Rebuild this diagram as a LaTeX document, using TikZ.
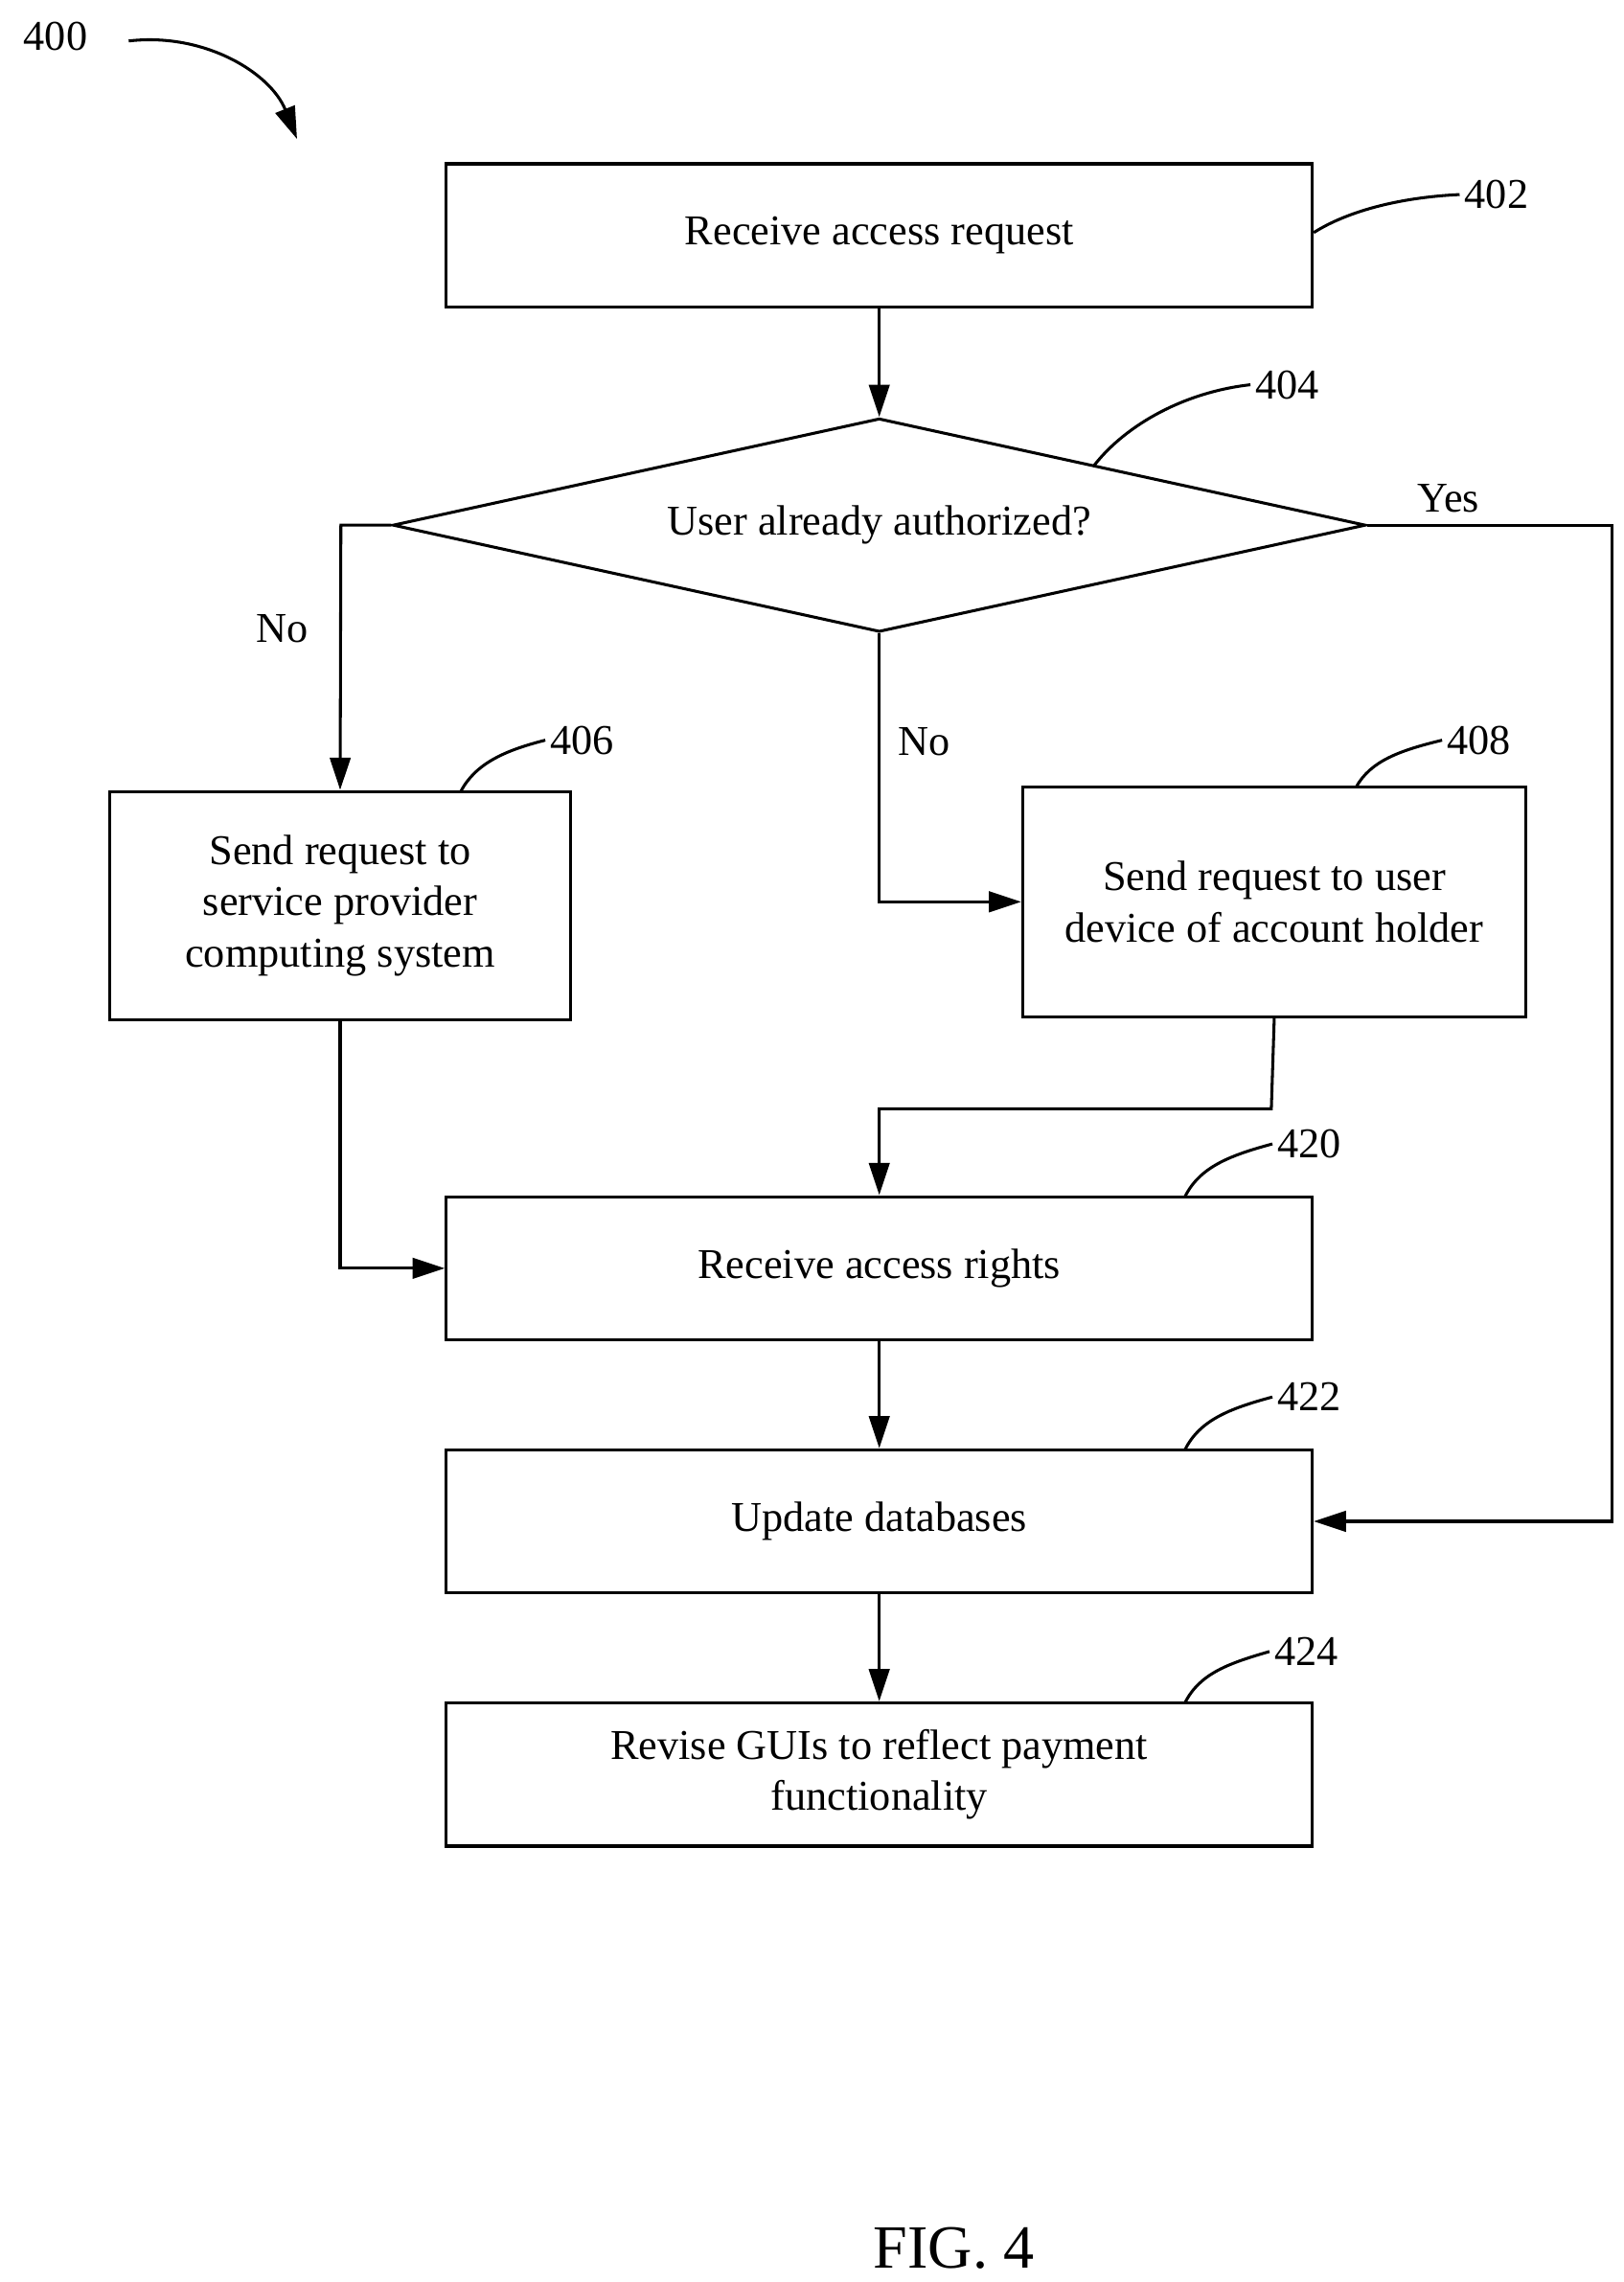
\documentclass[tikz,border=0pt]{standalone}
\usepackage{fontspec}
\setmainfont{Liberation Serif}
\usetikzlibrary{shapes.geometric,arrows.meta}
\begin{document}
\begin{tikzpicture}[x=1pt,y=-1pt,
  every node/.style={font=\fontsize{29}{35}\selectfont},
  box/.style={draw,line width=2pt,inner sep=0pt,align=center},
  lbl/.style={font=\fontsize{29}{35}\selectfont},
  ln/.style={line width=2pt},
  arr/.style={line width=2pt,-{Triangle[length=22pt,width=14pt]}}]
\useasboundingbox (0,0) rectangle (1110,1560);
\node[box,minimum width=592pt,minimum height=98pt] (b402) at (601,161) {Receive access request};
\node[draw,line width=2pt,diamond,aspect=4.5,minimum width=665pt,minimum height=146pt,inner sep=0pt] (d404) at (601,359) {};
\node at (601,359) {User already authorized?};
\node[box,minimum width=315pt,minimum height=156pt] (b406) at (232.5,619) {Send request to\\service provider\\computing system};
\node[box,minimum width=344pt,minimum height=157pt] (b408) at (871,616.5) {Send request to user\\device of account holder};
\node[box,minimum width=592pt,minimum height=98pt] (b420) at (601,867) {Receive access rights};
\node[box,minimum width=592pt,minimum height=98pt] (b422) at (601,1040) {Update databases};
\node[box,minimum width=592pt,minimum height=98pt] (b424) at (601,1213) {Revise GUIs to reflect payment\\functionality};
% labels
\node[lbl] (l400) at (38,25) {400};
\coordinate (a400) at (203,95);
\draw[arr] (88,28) .. controls (140,22) and (185,50) .. (a400);
\node[lbl] (l402) at (1023,133) {402};
\draw[ln] (b402.east) ++(0,-2) .. controls (920,145) and (955,135) .. (l402.west);
\node[lbl] (l404) at (880,263) {404};
\draw[ln] (748,318) .. controls (770,290) and (810,268) .. (l404.west);
\node[lbl] (l406) at (398,506) {406};
\draw[ln] (315,541) .. controls (325,522) and (345,513) .. (l406.west);
\node[lbl] (l408) at (1011,506) {408};
\draw[ln] (927,538) .. controls (937,520) and (957,513) .. (l408.west);
\node[lbl] (l420) at (895,782) {420};
\draw[ln] (810,818) .. controls (820,798) and (840,790) .. (l420.west);
\node[lbl] (l422) at (895,955) {422};
\draw[ln] (810,991) .. controls (820,971) and (840,963) .. (l422.west);
\node[lbl] (l424) at (893,1129) {424};
\draw[ln] (810,1164) .. controls (820,1144) and (840,1137) .. (l424.west);
% connectors
\draw[arr] (b402.south) -- (d404.north);
\draw[arr] (d404.west) -- (233,359) -- (b406.north);
\node at (193,430) {No};
\draw[arr] (d404.south) |- (b408.west);
\node at (632,507) {No};
\draw[arr] (d404.east) -- (1102,359) |- (b422.east);
\node at (990,341) {Yes};
\draw[arr] (b408.south) -- (869,758) -| (b420.north);
\draw[arr] (b406.south) |- (b420.west);
\draw[arr] (b420.south) -- (b422.north);
\draw[arr] (b422.south) -- (b424.north);
\node[font=\fontsize{42}{50}\selectfont] (fig) at (652,1537) {FIG. 4};
\end{tikzpicture}
\end{document}
